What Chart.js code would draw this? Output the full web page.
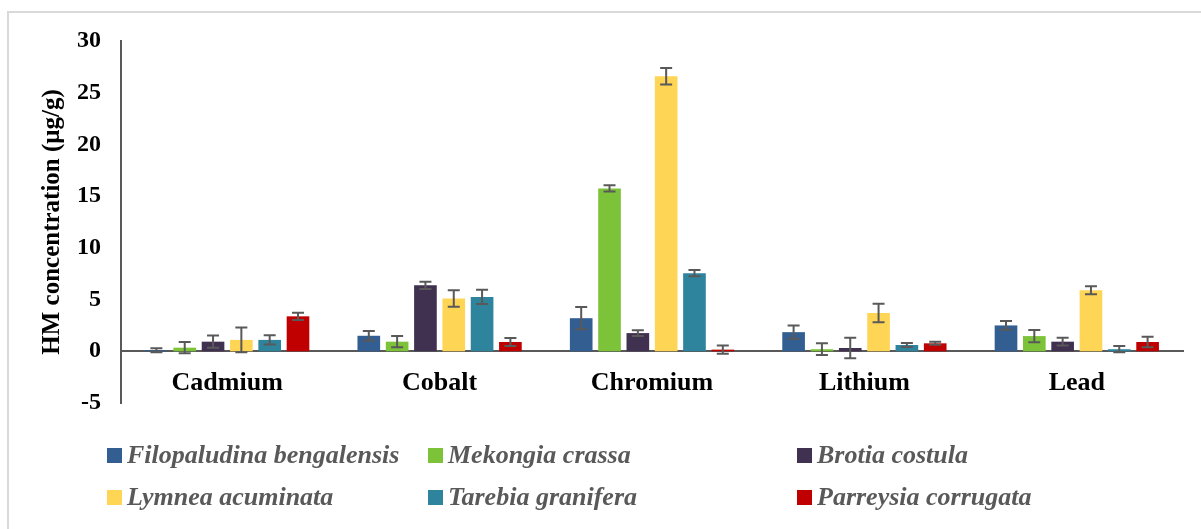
<!DOCTYPE html>
<html lang="en">
  <head>
    <meta charset="UTF-8" />
    <title>HM concentration</title>
    <script src="https://cdn.jsdelivr.net/npm/chart.js@4.4.1/dist/chart.umd.min.js"></script>
    <style>
      html, body { margin: 0; padding: 0; background: #fff; }
      #wrap { position: relative; width: 1201px; height: 529px; overflow: hidden; }
      #frame {
        position: absolute; left: 7px; top: 11px; right: -5px; bottom: -5px;
        border-top: 2px solid #d9d9d9; border-left: 2px solid #d9d9d9;
      }
      #chart { position: absolute; left: 0; top: 0; }
      .legend-item {
        position: absolute; display: flex; align-items: center;
        font-family: "Liberation Serif", "Times New Roman", serif;
        font-style: italic; font-weight: bold; font-size: 26px; color: #595959;
        white-space: nowrap;
      }
      .legend-item span.box { width: 15px; height: 15px; margin-right: 5px; display: inline-block; }
    </style>
  </head>
  <body>
    <div id="wrap">
      <div id="frame"></div>
      <canvas id="chart" width="1201" height="529"></canvas>
      <div id="legend"></div>
    </div>
    <script>
      // heavy metals
      const categories = ["Cadmium", "Cobalt", "Chromium", "Lithium", "Lead"];

      // species names and colours
      const species = [
        "Filopaludina bengalensis",
        "Mekongia crassa",
        "Brotia costula",
        "Lymnea acuminata",
        "Tarebia granifera",
        "Parreysia corrugata",
      ];
      const colors = ["#335E92", "#7DC33A", "#403151", "#FFD556", "#2E849C", "#C00000"];

      // mean values (µg/g)
      const filopaludina = [0.1, 1.5, 3.2, 1.85, 2.5];
      const mekongia = [0.35, 0.93, 15.75, 0.2, 1.47];
      const brotia = [0.93, 6.38, 1.76, 0.32, 0.93];
      const lymnea = [1.1, 5.1, 26.6, 3.7, 5.9];
      const tarebia = [1.1, 5.26, 7.55, 0.61, 0.2];
      const parreysia = [3.38, 0.9, 0.16, 0.77, 0.9];

      // standard deviations
      const filopaludinaErr = [0.2, 0.45, 1.07, 0.65, 0.42];
      const mekongiaErr = [0.55, 0.55, 0.3, 0.57, 0.6];
      const brotiaErr = [0.6, 0.35, 0.28, 1.0, 0.38];
      const lymneaErr = [1.2, 0.8, 0.8, 0.9, 0.38];
      const tarebiaErr = [0.45, 0.7, 0.3, 0.2, 0.3];
      const parreysiaErr = [0.35, 0.38, 0.4, 0.15, 0.5];

      const yTicks = [-5, 0, 5, 10, 15, 20, 25, 30];

      const values = [filopaludina, mekongia, brotia, lymnea, tarebia, parreysia];
      const errors = [filopaludinaErr, mekongiaErr, brotiaErr, lymneaErr, tarebiaErr, parreysiaErr];

      // draws the error bars from the y scale
      const errorBars = {
        id: "errorBars",
        afterDatasetsDraw(chart) {
          const ctx = chart.ctx;
          const y = chart.scales.y;
          ctx.save();
          ctx.strokeStyle = "#595959";
          ctx.lineWidth = 2;
          chart.data.datasets.forEach((ds, di) => {
            const meta = chart.getDatasetMeta(di);
            meta.data.forEach((bar, i) => {
              const v = ds.data[i];
              const e = ds.errors[i];
              const top = y.getPixelForValue(v + e);
              const bot = y.getPixelForValue(v - e);
              ctx.beginPath();
              ctx.moveTo(bar.x, top);
              ctx.lineTo(bar.x, bot);
              ctx.moveTo(bar.x - 6, top);
              ctx.lineTo(bar.x + 6, top);
              ctx.moveTo(bar.x - 6, bot);
              ctx.lineTo(bar.x + 6, bot);
              ctx.stroke();
            });
          });
          ctx.restore();
        },
      };

      const serif = "'Liberation Serif', 'Times New Roman', serif";

      new Chart(document.getElementById("chart"), {
        type: "bar",
        data: {
          labels: categories,
          datasets: species.map((name, i) => ({
            label: name,
            data: values[i],
            errors: errors[i],
            backgroundColor: colors[i],
            categoryPercentage: 0.8,
            barPercentage: 0.8,
          })),
        },
        options: {
          responsive: false,
          animation: false,
          layout: { padding: { top: 41, right: 18, bottom: 126, left: 0 } },
          plugins: { legend: { display: false }, tooltip: { enabled: false } },
          scales: {
            x: {
              position: { y: 0 },
              grid: { display: false, drawTicks: false },
              border: { color: "#595959", width: 2 },
              ticks: { color: "#000", padding: 16, font: { family: serif, size: 26, weight: "bold" } },
              afterFit(s) { s.height = 0; },
            },
            y: {
              min: -5,
              max: 30,
              grid: { display: false, drawTicks: false },
              border: { color: "#595959", width: 2 },
              afterBuildTicks(s) { s.ticks = yTicks.map((v) => ({ value: v })); },
              afterFit(s) { s.width = 121; },
              ticks: { color: "#000", padding: 20, font: { family: serif, size: 24, weight: "bold" } },
              title: {
                display: true,
                text: "HM concentration (μg/g)",
                color: "#000",
                padding: { top: 38, bottom: 0 },
                font: { family: serif, size: 25, weight: "bold" },
              },
            },
          },
        },
        plugins: [errorBars],
      });

      // legend in three columns, two rows
      const legendPos = [
        [107, 455], [428, 455], [797, 455],
        [107, 497], [428, 497], [797, 497],
      ];
      const legend = document.getElementById("legend");
      species.forEach((name, i) => {
        const item = document.createElement("div");
        item.className = "legend-item";
        item.style.left = legendPos[i][0] + "px";
        item.style.top = legendPos[i][1] - 15 + "px";
        item.innerHTML = '<span class="box" style="background:' + colors[i] + '"></span>' + name;
        legend.appendChild(item);
      });
    </script>
  </body>
</html>
